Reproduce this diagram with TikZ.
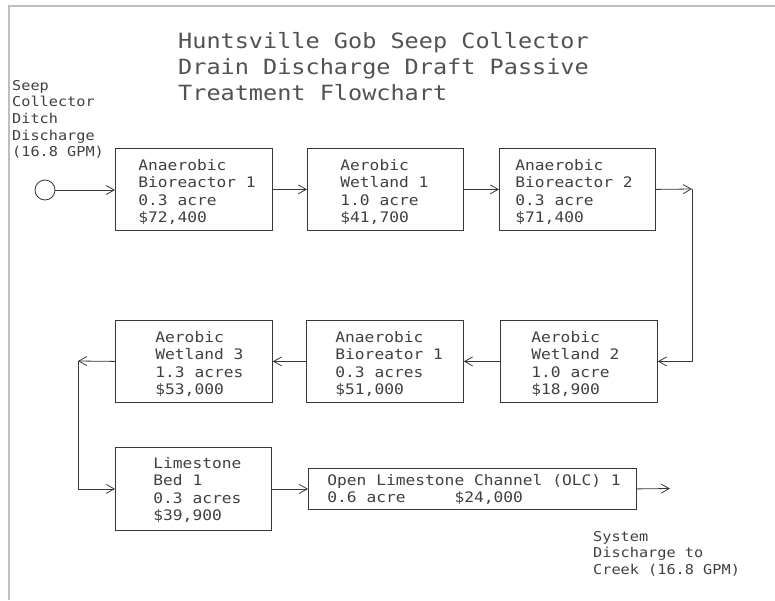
\documentclass[tikz,border=0pt]{standalone}
\usepackage{fontspec}
\newfontfamily\cad[FakeStretch=1.12]{DejaVu Sans Mono}
\usetikzlibrary{arrows.meta}
\newcommand{\boxtext}[4]{\makebox[#1][l]{\hspace{#2}\raisebox{#3}[0pt][0pt]{\begin{tabular}[t]{@{}l@{}}#4\end{tabular}}}}
\begin{document}
\begin{tikzpicture}[x=1pt,y=-1pt,
  line/.style={draw=black!78, line width=0.8pt},
  arr/.style={line, -{Straight Barb[length=8pt,width=9pt]}},
  stage/.style={line, rectangle, inner sep=0pt, anchor=north west, text=black!75, font=\cad\fontsize{14.5}{17.3}\selectfont},
  lbl/.style={inner sep=0pt, anchor=base west, text=black!75, font=\cad\fontsize{13.6}{16.7}\selectfont}
]
\useasboundingbox (0,0) rectangle (775,600);
\fill[white] (0,0) rectangle (775,600);
\draw[black!25, line width=2pt] (9,600) -- (9,6) -- (775,6);

\node[inner sep=0pt, anchor=base west, text=black!68, font=\cad\fontsize{21}{26}\selectfont] (title) at (178,48)
  {\begin{tabular}[t]{@{}l@{}}Huntsville Gob Seep Collector\\Drain Discharge Draft Passive\\Treatment Flowchart\end{tabular}};

\node[stage, minimum width=157pt, minimum height=82pt] (b1) at (115,148)
  {\boxtext{157pt}{23pt}{19pt}{Anaerobic\\Bioreactor 1\\0.3 acre\\\$72,400}};
\node[stage, minimum width=156pt, minimum height=82pt] (b2) at (307,148)
  {\boxtext{156pt}{33pt}{19pt}{Aerobic\\Wetland 1\\1.0 acre\\\$41,700}};
\node[stage, minimum width=156pt, minimum height=82pt] (b3) at (499,148)
  {\boxtext{156pt}{16pt}{19pt}{Anaerobic\\Bioreactor 2\\0.3 acre\\\$71,400}};
\node[stage, minimum width=157pt, minimum height=82pt] (b4) at (500,320)
  {\boxtext{157pt}{31pt}{19pt}{Aerobic\\Wetland 2\\1.0 acre\\\$18,900}};
\node[stage, minimum width=157pt, minimum height=82pt] (b5) at (306,320)
  {\boxtext{157pt}{29pt}{19pt}{Anaerobic\\Bioreator 1\\0.3 acres\\\$51,000}};
\node[stage, minimum width=157pt, minimum height=82pt] (b6) at (115,320)
  {\boxtext{157pt}{40pt}{19pt}{Aerobic\\Wetland 3\\1.3 acres\\\$53,000}};
\node[stage, minimum width=156pt, minimum height=83pt] (b7) at (115,447)
  {\boxtext{156pt}{38pt}{20.5pt}{Limestone\\Bed 1\\0.3 acres\\\$39,900}};
\node[stage, minimum width=328pt, minimum height=41pt] (b8) at (308,468)
  {\boxtext{328pt}{19pt}{3.5pt}{Open Limestone Channel (OLC) 1\\0.6 acre\hspace{48.9pt}\$24,000}};

\node[line, circle, minimum size=20pt, inner sep=0pt] (src) at (45,190) {};
\coordinate (t1) at (692,189);
\coordinate (t2) at (78,361);
\coordinate (t3) at (670,488.5);

\draw[arr] (src) -- (src -| b1.west);
\draw[arr] (b1.east) -- (b2.west);
\draw[arr] (b2.east) -- (b3.west);
\draw[arr] (b3.east) -- (t1);
\draw[arr] (t1) |- (b4.east);
\draw[arr] (b4.west) -- (b5.east);
\draw[arr] (b5.west) -- (b6.east);
\draw[arr] (b6.west) -- (t2);
\draw[arr] (t2) |- (b7.west);
\draw[arr] (b7.east) -- (b8.west);
\draw[arr] (b8.east) -- (t3);

\node[lbl] (inlbl) at (12,90)
  {\begin{tabular}[t]{@{}l@{}}Seep\\Collector\\Ditch\\Discharge\\(16.8 GPM)\end{tabular}};
\node[lbl] (outlbl) at (593,541)
  {\begin{tabular}[t]{@{}l@{}}System\\Discharge to\\Creek (16.8 GPM)\end{tabular}};
\end{tikzpicture}
\end{document}
